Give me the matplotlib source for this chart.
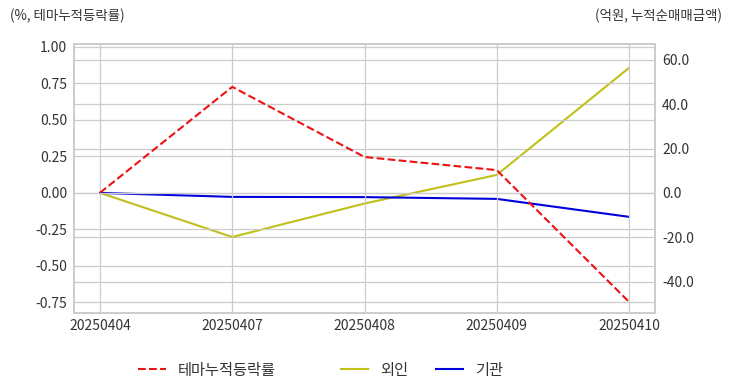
import matplotlib
matplotlib.use("Agg")
import matplotlib.pyplot as plt
from matplotlib.ticker import FormatStrFormatter

plt.rcParams['font.family'] = ['Noto Sans CJK KR', 'DejaVu Sans']
plt.rcParams['axes.unicode_minus'] = False

dates = ["20250404", "20250407", "20250408", "20250409", "20250410"]
theme_ret = [0.0, 0.726, 0.245, 0.155, -0.748]
foreign = [0.0, -19.9, -4.8, 8.1, 56.4]
institution = [0.0, -1.8, -1.9, -2.7, -10.8]

fig = plt.figure(figsize=(7.32, 3.92), dpi=100)
ax1 = fig.add_axes([74/732, 1-313/392, (655-74)/732, (313-44)/392])
ax2 = ax1.twinx()

x = list(range(len(dates)))
grid_c = "#cccccc"
for ax in (ax1, ax2):
    ax.set_facecolor("none")
    for s in ax.spines.values():
        s.set_color(grid_c)
        s.set_linewidth(1.2)
    ax.tick_params(length=0, labelsize=10, colors="#333333")
    ax.grid(True, color=grid_c, linewidth=0.9)
ax2.grid(True, axis='y', color=grid_c, linewidth=0.9)
ax2.grid(False, axis='x')

l1, = ax1.plot(x, theme_ret, color="#ee1111", linestyle="--", linewidth=1.5, label="테마누적등락률")
l2, = ax2.plot(x, foreign, color="#c0c018", linewidth=1.5, label="외인")
l3, = ax2.plot(x, institution, color="#0000dd", linewidth=1.5, label="기관")

ax1.set_xticks(x)
ax1.set_xticklabels(dates)
ax1.set_xlim(-0.197, 4.197)
ax1.set_ylim(-0.825, 1.02)
ax1.set_yticks([-0.75, -0.5, -0.25, 0, 0.25, 0.5, 0.75, 1.0])
ax1.yaxis.set_major_formatter(FormatStrFormatter('%.2f'))
ax2.set_ylim(-54.2, 67.2)
ax2.set_yticks([-40, -20, 0, 20, 40, 60])
ax2.yaxis.set_major_formatter(FormatStrFormatter('%.1f'))
ax1.tick_params(axis='y', pad=5)
ax2.tick_params(axis='y', pad=5)
ax1.tick_params(axis='x', pad=4)
ax1.set_zorder(ax2.get_zorder() + 1)
ax1.patch.set_visible(False)

fig.text(10/732, 1-16/392, "(%, 테마누적등락률)", fontsize=9.7, color="#333333", va="center", ha="left")
fig.text(722/732, 1-16/392, "(억원, 누적순매매금액)", fontsize=9.7, color="#333333", va="center", ha="right")

fig.legend(handles=[l1], loc="center", bbox_to_anchor=(207/732, 1-370/392), frameon=False, fontsize=11,
           handlelength=1.8, handletextpad=0.8, labelcolor="#333333")
fig.legend(handles=[l2, l3], loc="center", bbox_to_anchor=(422/732, 1-370/392), frameon=False, fontsize=11,
           ncol=2, handlelength=1.8, handletextpad=0.8, columnspacing=1.8, labelcolor="#333333")

fig.savefig("out.png", dpi=100)
